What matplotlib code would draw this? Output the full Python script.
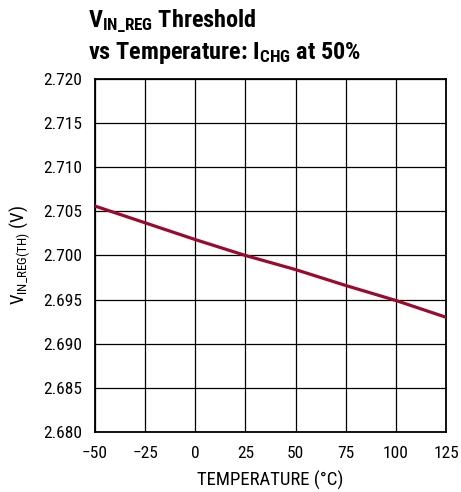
import matplotlib
matplotlib.use("Agg")
import matplotlib.pyplot as plt
import numpy as np

# temperature (C) vs VIN_REG threshold (V)
temp = [-50, -25, 0, 25, 50, 75, 100, 125]
vth = [2.7056, 2.7037, 2.7018, 2.7000, 2.6984, 2.6966, 2.6949, 2.6930]

xticks = [-50, -25, 0, 25, 50, 75, 100, 125]
yticks = np.arange(2.680, 2.7201, 0.005)

fam = ['Roboto Condensed', 'Liberation Sans', 'DejaVu Sans']
plt.rcParams['font.family'] = fam
plt.rcParams['mathtext.fontset'] = 'custom'
plt.rcParams['mathtext.rm'] = 'Roboto Condensed'
plt.rcParams['mathtext.bf'] = 'Roboto Condensed:bold'

fig = plt.figure(figsize=(4.61, 4.92), dpi=100)
ax = fig.add_axes([0.206, 0.122, 0.7615, 0.7175])

ax.plot(temp, vth, color='#9b0a2e', lw=2.3, zorder=3)

ax.set_xlim(-50, 125)
ax.set_ylim(2.680, 2.720)
ax.set_xticks(xticks)
ax.set_yticks(yticks)
ax.set_yticklabels([f"{v:.3f}" for v in yticks])
ax.tick_params(length=0, labelsize=12.5)
ax.tick_params(axis='x', pad=10)
ax.tick_params(axis='y', pad=9)
ax.grid(True, color='black', lw=0.9)
for s in ax.spines.values():
    s.set_linewidth(1.3)

ax.set_xlabel('TEMPERATURE (°C)', fontsize=13.5, labelpad=7)
ax.set_ylabel(r'V$_{\mathrm{IN\_REG(TH)}}$ (V)', fontsize=13.5, labelpad=8)

fig.text(0.19, 0.945, r'$\mathbf{V_{IN\_REG}}$ Threshold', fontsize=17.5,
         fontweight='bold', ha='left', va='baseline')
fig.text(0.19, 0.88, r'vs Temperature: $\mathbf{I_{CHG}}$ at 50%', fontsize=17.5,
         fontweight='bold', ha='left', va='baseline')

fig.savefig('out.png', dpi=100)
